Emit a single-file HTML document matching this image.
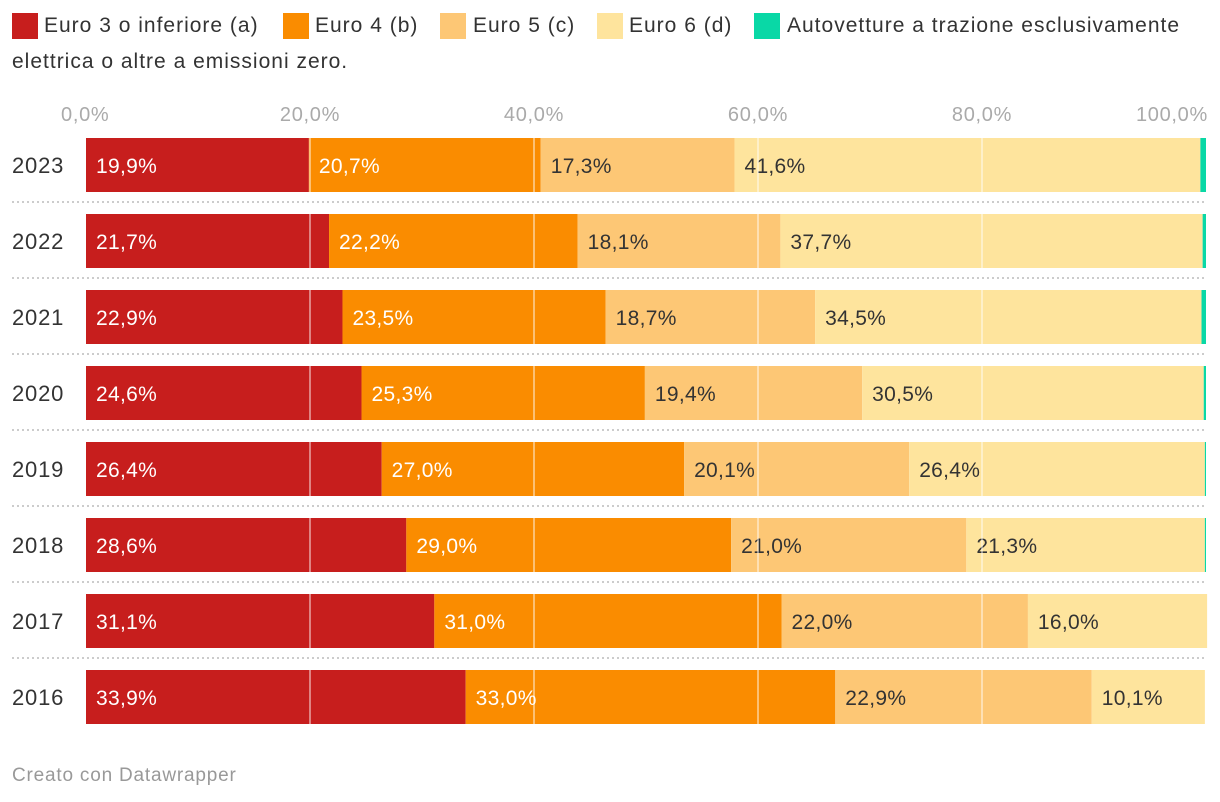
<!DOCTYPE html>
<html><head><meta charset="utf-8"><style>
body{margin:0;width:1220px;height:802px;background:#fff;font-family:"Liberation Sans",sans-serif;overflow:hidden;position:relative}
.lg{position:absolute;font-size:21px;letter-spacing:1px;color:#333;line-height:26px;white-space:nowrap}
.sw{position:absolute;width:26px;height:26px}
</style></head><body>
<div>
<div class="sw" style="left:12px;top:13px;background:#c71e1d"></div><div class="lg" style="left:44px;top:13px">Euro 3 o inferiore (a)</div>
<div class="sw" style="left:283px;top:13px;background:#fa8c00"></div><div class="lg" style="left:315px;top:13px">Euro 4 (b)</div>
<div class="sw" style="left:440px;top:13px;background:#fdc775"></div><div class="lg" style="left:473px;top:13px">Euro 5 (c)</div>
<div class="sw" style="left:597px;top:13px;background:#fee49d"></div><div class="lg" style="left:629px;top:13px">Euro 6 (d)</div>
<div class="sw" style="left:754px;top:13px;background:#09d8a6"></div><div class="lg" style="left:787px;top:13px">Autovetture a trazione esclusivamente</div>
<div class="lg" style="left:12px;top:49px">elettrica o altre a emissioni zero.</div>
</div>
<svg id="chart" width="1220" height="802" style="position:absolute;left:0;top:0"></svg>
<div style="position:absolute;left:12px;top:765px;font-size:19px;letter-spacing:0.8px;color:#999">Creato con Datawrapper</div>
<script>
const years=["2023","2022","2021","2020","2019","2018","2017","2016"];
const euro3=[19.9,21.7,22.9,24.6,26.4,28.6,31.1,33.9];
const euro4=[20.7,22.2,23.5,25.3,27.0,29.0,31.0,33.0];
const euro5=[17.3,18.1,18.7,19.4,20.1,21.0,22.0,22.9];
const euro6=[41.6,37.7,34.5,30.5,26.4,21.3,16.0,10.1];
const electric=[0.5,0.3,0.4,0.2,0.1,0.1,0,0];
const ticks=[0,20,40,60,80,100];
const tickLabels=["0,0%","20,0%","40,0%","60,0%","80,0%","100,0%"];
const NS="http://www.w3.org/2000/svg",svg=document.getElementById('chart');
const x0=86,x1=1206;const xs=v=>x0+(x1-x0)*v/100;
const rowY=i=>138+i*76;const bh=54;
function mk(t,a){const e=document.createElementNS(NS,t);for(const k in a)e.setAttribute(k,a[k]);svg.appendChild(e);return e;}
ticks.forEach((t,i)=>{const tx=mk('text',{x:xs(t),y:121,'font-size':20,'letter-spacing':0.7,fill:'#aaa','text-anchor':i==0?'start':(i==ticks.length-1?'end':'middle'),'font-family':'Liberation Sans, sans-serif'});
if(i==0)tx.setAttribute('x',xs(t)-25);if(i==ticks.length-1)tx.setAttribute('x',xs(t)+2);
tx.textContent=tickLabels[i];

});
const series=[[euro3,'#c71e1d','#fff','euro3'],[euro4,'#fa8c00','#fff','euro4'],[euro5,'#fdc775','#333','euro5'],[euro6,'#fee49d','#333','euro6'],[electric,'#09d8a6','#333','electric']];
years.forEach((y,i)=>{const yy=rowY(i);
const yl=mk('text',{x:12,y:yy+bh/2+8,'font-size':22,'letter-spacing':0.8,fill:'#333','font-family':'Liberation Sans, sans-serif'});yl.textContent=y;


if(i>0){const sl=mk('line',{x1:12,x2:1206,y1:yy-12,y2:yy-12,stroke:'#ccc','stroke-width':2,'stroke-dasharray':'2 3'});

}
let acc=0;
series.forEach(s=>{const v=s[0][i];if(v<=0)return;const a=xs(acc),b=xs(acc+v);
const r=mk('rect',{x:a,y:yy,width:Math.max(b-a,0),height:bh,fill:s[1]});


if(s[3]!='electric'){const t=mk('text',{x:a+10,y:yy+bh/2+8,'font-size':21,'letter-spacing':0.3,fill:s[2],'font-family':'Liberation Sans, sans-serif'});t.textContent=v.toFixed(1).replace('.',',')+'%';

}
acc+=v;});
ticks.slice(1,-1).forEach(t=>{const g=mk('line',{x1:xs(t),x2:xs(t),y1:yy,y2:yy+bh,stroke:'rgba(255,255,255,0.45)','stroke-width':2});

});
});
</script>
</body></html>
